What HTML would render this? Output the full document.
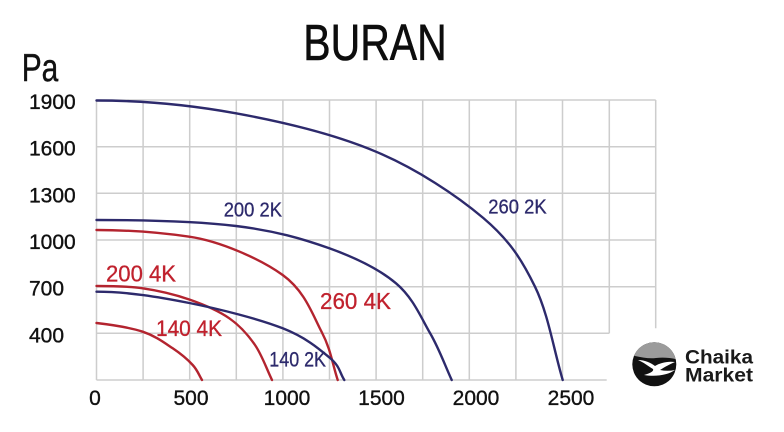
<!DOCTYPE html>
<html><head><meta charset="utf-8"><style>
html,body{margin:0;padding:0;background:#fff;}
svg{display:block;font-family:"Liberation Sans",sans-serif;}
</style></head><body>
<svg width="784" height="432" viewBox="0 0 784 432" xmlns="http://www.w3.org/2000/svg">
<rect width="784" height="432" fill="#fff"/>
<!-- grid -->
<g stroke="#cdcdcd" stroke-width="1.5" fill="none">
<line x1="96.5" y1="100" x2="655.7" y2="100"/>
<line x1="96.5" y1="146.7" x2="655.7" y2="146.7"/>
<line x1="96.5" y1="193.3" x2="655.7" y2="193.3"/>
<line x1="96.5" y1="240" x2="655.7" y2="240"/>
<line x1="96.5" y1="286.7" x2="655.7" y2="286.7"/>
<line x1="96.5" y1="333.3" x2="609.3" y2="333.3"/>
<line x1="96.5" y1="380" x2="606.7" y2="380"/>
<line x1="96.5" y1="100" x2="96.5" y2="380"/>
<line x1="143.1" y1="100" x2="143.1" y2="380"/>
<line x1="189.7" y1="100" x2="189.7" y2="380"/>
<line x1="236.3" y1="100" x2="236.3" y2="380"/>
<line x1="282.9" y1="100" x2="282.9" y2="380"/>
<line x1="329.5" y1="100" x2="329.5" y2="380"/>
<line x1="376.1" y1="100" x2="376.1" y2="380"/>
<line x1="422.7" y1="100" x2="422.7" y2="380"/>
<line x1="469.3" y1="100" x2="469.3" y2="380"/>
<line x1="515.9" y1="100" x2="515.9" y2="380"/>
<line x1="562.5" y1="100" x2="562.5" y2="380"/>
<line x1="609.3" y1="100" x2="609.3" y2="333.3"/>
<line x1="655.7" y1="100" x2="655.7" y2="328.3"/>
</g>
<!-- curves -->
<g fill="none" stroke-width="2.4" stroke-linecap="round">
<path stroke="#2d2a6c" d="M96.5,100.5 C143,100.5 189.4,104.8 236,113.3 C282.6,121.8 334.8,134.25 376,151.7 C417.2,169.15 456.8,195.5 483.3,218 C509.8,240.5 521.8,259.7 535,286.7 C548.2,313.7 553.5,348.9 562.7,380"/>
<path stroke="#2d2a6c" d="M96.5,220 C143,220 197.2,221.3 236,226 C274.8,230.7 302.6,238.75 329.3,248.3 C356,257.85 379.2,269.2 396,283.3 C412.8,297.4 420.7,316.9 430,333 C439.3,349.1 444.5,364.3 451.7,380"/>
<path stroke="#b3242f" d="M96.5,230 C127.4,230 158.3,232.2 189.3,236.7 C220.3,241.2 260.6,259.1 282.7,275 C304.8,290.9 312.5,314.5 321.7,332 C330.9,349.5 332.4,364 337.7,380"/>
<path stroke="#b3242f" d="M96.5,286 C111.9,286 127.2,286.05 142.7,288.3 C158.2,290.55 174.9,294.5 189.3,299.5 C203.7,304.5 218.35,310.7 229.3,318.3 C240.25,325.9 247.9,334.7 255,345 C262.1,355.3 266.3,368.3 272,380"/>
<path stroke="#2d2a6c" d="M96.5,291.7 C127.4,291.7 158.3,296.9 189.3,303 C220.3,309.1 259.25,319.1 282.7,328.3 C306.15,337.5 319.7,349.4 330,358 C340.3,366.6 339.5,372.7 344.3,380"/>
<path stroke="#b3242f" d="M96.5,323 C111.9,324.8 130,327.5 142.7,331.7 C155.4,335.9 164.4,342.75 172.7,348.3 C181,353.85 187.8,359.7 192.7,365 C197.6,370.3 198.9,375 202,380"/>
</g>
<!-- curve labels -->
<g font-size="20.5" fill="#2d2a6c" stroke="#2d2a6c" stroke-width="0.3">
<text x="223.7" y="216.7" textLength="58.3" lengthAdjust="spacingAndGlyphs">200 2K</text>
<text x="488.3" y="213.3" textLength="58.4" lengthAdjust="spacingAndGlyphs">260 2K</text>
<text x="269.3" y="366.7" font-size="21" textLength="56.7" lengthAdjust="spacingAndGlyphs">140 2K</text>
</g>
<g font-size="23" fill="#c0212d" stroke="#c0212d" stroke-width="0.3">
<text x="106" y="281.7" textLength="70" lengthAdjust="spacingAndGlyphs">200 4K</text>
<text x="156" y="336" font-size="22.5" textLength="66" lengthAdjust="spacingAndGlyphs">140 4K</text>
<text x="320" y="309" textLength="71" lengthAdjust="spacingAndGlyphs">260 4K</text>
</g>
<!-- y tick labels -->
<g font-size="21" fill="#111" stroke="#111" stroke-width="0.35">
<text x="29" y="109">1900</text>
<text x="29" y="155.7">1600</text>
<text x="29" y="202.3">1300</text>
<text x="29" y="249">1000</text>
<text x="29" y="295.7">700</text>
<text x="29" y="342.3">400</text>
</g>
<!-- x tick labels -->
<g font-size="21" fill="#111" text-anchor="middle" stroke="#111" stroke-width="0.35">
<text x="95" y="405">0</text>
<text x="191" y="405">500</text>
<text x="287" y="405">1000</text>
<text x="381.5" y="405">1500</text>
<text x="476" y="405">2000</text>
<text x="571" y="405">2500</text>
</g>
<!-- Pa and title -->
<text x="21.7" y="81" font-size="39" fill="#111" stroke="#111" stroke-width="0.4" textLength="36.6" lengthAdjust="spacingAndGlyphs">Pa</text>
<text x="303.3" y="60" font-size="51" fill="#0d0d0d" stroke="#0d0d0d" stroke-width="0.6" textLength="143.4" lengthAdjust="spacingAndGlyphs">BURAN</text>
<!-- logo -->
<defs><clipPath id="lc"><circle cx="654.3" cy="364.3" r="22"/></clipPath></defs>
<g clip-path="url(#lc)">
<rect x="630" y="340" width="50" height="50" fill="#111"/>
<path d="M630,340 H680 V360 C672,358 664,357 656,358 C648,359 640,357 630,355 Z" fill="#9b9b9b"/>
<path d="M638,360 C645,360 651,363 655,366 C660,363 667,361 675,362 C668,365 663,368 660,370 C665,371 670,371 675,370 C668,375 656,377 644,375 C651,373 654,371 653,369 C648,366 643,362 638,360 Z" fill="#fff"/>
</g>
<text x="685" y="363.3" font-size="19" font-weight="bold" fill="#1a1a1a" textLength="68" lengthAdjust="spacingAndGlyphs">Chaika</text>
<text x="685" y="381.7" font-size="19" font-weight="bold" fill="#1a1a1a" textLength="68" lengthAdjust="spacingAndGlyphs">Market</text>
</svg>
</body></html>
